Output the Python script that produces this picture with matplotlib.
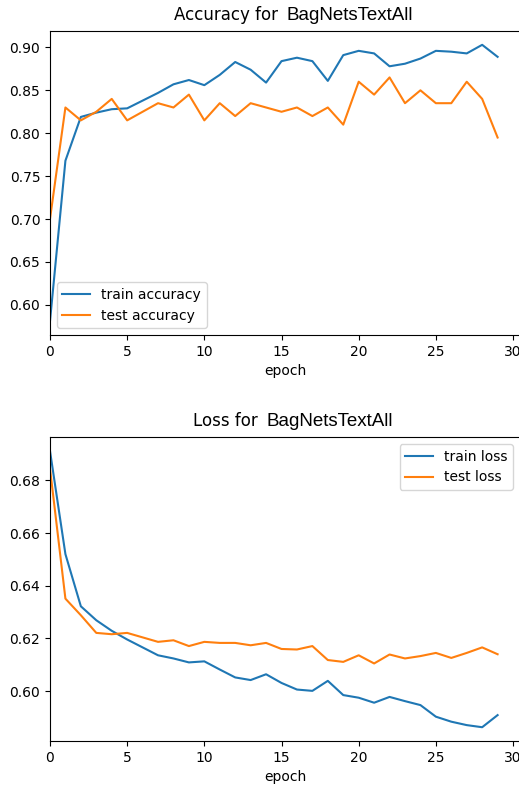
import matplotlib
matplotlib.use('Agg')
import matplotlib.pyplot as plt

model_name = 'BagNetsTextAll'

epochs = list(range(30))

train_acc = [0.581, 0.768, 0.819, 0.824, 0.828, 0.829, 0.838, 0.847, 0.857, 0.862,
             0.856, 0.868, 0.883, 0.874, 0.859, 0.884, 0.888, 0.884, 0.861, 0.891,
             0.896, 0.893, 0.878, 0.881, 0.887, 0.896, 0.895, 0.893, 0.903, 0.889]
test_acc = [0.700, 0.830, 0.815, 0.825, 0.840, 0.815, 0.825, 0.835, 0.830, 0.845,
            0.815, 0.835, 0.820, 0.835, 0.830, 0.825, 0.830, 0.820, 0.830, 0.810,
            0.860, 0.845, 0.865, 0.835, 0.850, 0.835, 0.835, 0.860, 0.840, 0.795]

train_loss = [0.6912, 0.6520, 0.6322, 0.6269, 0.6229, 0.6196, 0.6166, 0.6136, 0.6124, 0.6109,
              0.6113, 0.6082, 0.6052, 0.6042, 0.6064, 0.6031, 0.6006, 0.6001, 0.6039, 0.5985,
              0.5975, 0.5956, 0.5978, 0.5962, 0.5947, 0.5903, 0.5884, 0.5871, 0.5863, 0.5909]
test_loss = [0.6845, 0.6351, 0.6288, 0.6221, 0.6216, 0.6221, 0.6204, 0.6187, 0.6193, 0.6171,
             0.6187, 0.6183, 0.6183, 0.6174, 0.6183, 0.6160, 0.6158, 0.6171, 0.6118, 0.6111,
             0.6136, 0.6105, 0.6139, 0.6124, 0.6133, 0.6145, 0.6126, 0.6145, 0.6166, 0.6140]


def add_title(ax, prefix, split):
    # prefix in the default font, model name in a sans font a bit larger
    ax.text(split[0], 1.036, prefix, transform=ax.transAxes, ha='right',
            va='baseline', fontsize=12)
    ax.text(split[1], 1.036, model_name, transform=ax.transAxes, ha='left',
            va='baseline', fontsize=13.5, family='Liberation Sans')


fig = plt.figure(figsize=(5.19, 7.87), dpi=100)
ax1 = fig.add_axes([0.0963, 0.5743, 0.9056, 0.3863])
ax2 = fig.add_axes([0.0963, 0.0584, 0.9056, 0.3863])

ax1.plot(epochs, train_acc, label='train accuracy')
ax1.plot(epochs, test_acc, label='test accuracy')
ax1.set_xlim(left=0)
ax1.set_xlabel('epoch')
ax1.legend(loc='lower left')
add_title(ax1, 'Accuracy for', (0.486, 0.503))

ax2.plot(epochs, train_loss, label='train loss')
ax2.plot(epochs, test_loss, label='test loss')
ax2.set_xlim(left=0)
ax2.set_xlabel('epoch')
ax2.legend(loc='upper right')
add_title(ax2, 'Loss for', (0.441, 0.461))

fig.savefig('out.png', dpi=100)
